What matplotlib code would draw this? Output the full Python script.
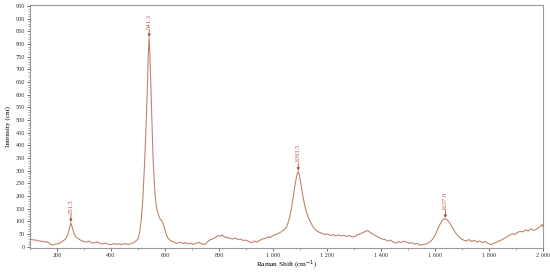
import numpy as np
import matplotlib.pyplot as plt
from matplotlib.ticker import FuncFormatter, MultipleLocator

# Raman spectrum
shift = [100, 110, 120, 135, 150, 165, 181, 195, 210, 222, 232, 240, 246, 251.5, 256, 262, 270, 280,
         290, 300, 310, 320, 330, 340, 350, 360, 370, 380, 390, 400, 410, 420, 430, 440, 450, 460,
         470, 480, 490, 500, 506, 512, 518, 524, 530, 535, 538, 541.3, 544, 548, 552, 556, 561,
         566, 571, 576, 581, 586, 591, 596, 601, 607, 613, 620, 628, 636, 645, 655, 665, 675, 685,
         695, 705, 715, 725, 735, 745, 752, 760, 770, 780, 790, 798, 805, 812, 820, 830, 840, 850,
         860, 870, 880, 890, 900, 910, 920, 930, 940, 950, 960, 970, 980, 990, 1000, 1010, 1020,
         1030, 1040, 1048, 1055, 1062, 1068, 1074, 1080, 1086, 1090, 1093.5, 1097, 1102, 1108,
         1114, 1120, 1127, 1135, 1143, 1152, 1162, 1172, 1182, 1192, 1202, 1212, 1222, 1232, 1242,
         1252, 1262, 1272, 1282, 1292, 1302, 1312, 1322, 1332, 1342, 1350, 1357, 1365, 1375, 1385,
         1395, 1405, 1415, 1425, 1435, 1445, 1455, 1465, 1475, 1485, 1495, 1505, 1515, 1525, 1535,
         1545, 1555, 1565, 1575, 1585, 1595, 1603, 1611, 1619, 1626, 1632, 1637.9, 1644, 1650,
         1657, 1664, 1671, 1679, 1687, 1695, 1705, 1715, 1725, 1735, 1745, 1755, 1765, 1775, 1785,
         1795, 1805, 1815, 1825, 1835, 1845, 1855, 1865, 1875, 1885, 1895, 1905, 1915, 1925, 1935,
         1945, 1955, 1965, 1975, 1983, 1990, 1996, 2000]
intensity = [31, 27, 26, 22, 20, 18, 6, 10, 13, 22, 30, 48, 72, 94, 78, 55, 38, 30,
             24, 20, 18, 22, 14, 16, 19, 12, 11, 14, 9, 8, 12, 9, 11, 8, 12, 9,
             10, 14, 20, 30, 55, 105, 190, 320, 480, 640, 760, 825, 760, 620, 470, 340, 240,
             175, 140, 125, 110, 105, 96, 80, 60, 42, 30, 24, 20, 16, 13, 18, 12, 16, 10,
             14, 9, 13, 17, 11, 8, 12, 22, 28, 32, 38, 44, 41, 46, 38, 36, 33, 30,
             34, 28, 30, 24, 26, 20, 15, 22, 18, 24, 30, 32, 38, 36, 44, 48, 52,
             58, 66, 74, 92, 118, 150, 190, 235, 272, 290, 297, 285, 255, 215,
             180, 150, 125, 105, 88, 72, 62, 56, 52, 48, 50, 44, 47, 43, 46,
             42, 45, 40, 44, 38, 40, 46, 50, 55, 60, 64, 58, 52, 46, 40,
             34, 30, 28, 22, 26, 18, 14, 20, 16, 22, 17, 13, 15, 10, 12,
             6, 8, 10, 14, 22, 35, 52, 72, 90, 102, 108, 110, 106, 100,
             88, 75, 62, 50, 40, 32, 26, 22, 28, 20, 25, 18, 22, 16, 20,
             14, 8, 12, 16, 22, 26, 32, 38, 45, 50, 48, 56, 60, 58, 66,
             62, 70, 64, 68, 75, 80, 88, 78]
peak_pos = [251.5, 541.3, 1093.5, 1637.9]
peak_val = [94, 825, 297, 110]
peak_txt = ['251.5', '541.3', '1093.5', '1637.9']

plt.rcParams['font.family'] = ['Liberation Serif', 'DejaVu Serif']

fig = plt.figure(figsize=(5.5, 2.73), dpi=100)
ax = fig.add_axes([0.0545, 0.092, 0.933, 0.89])

ax.plot(shift, intensity, color='#c0846a', lw=0.8)

for x, y, t in zip(peak_pos, peak_val, peak_txt):
    ax.annotate('', xy=(x, y + 3), xytext=(x, y + 32),
                arrowprops=dict(arrowstyle='-|>', color='#a85040', lw=0.6,
                                mutation_scale=4, shrinkA=0, shrinkB=0))
    ax.text(x, y + 36, t, rotation=90, ha='center', va='bottom',
            fontsize=4.8, color='#c0504d')

ax.set_xlim(100, 2000)
ax.set_ylim(-5, 955)
ax.xaxis.set_major_locator(MultipleLocator(200))
ax.xaxis.set_minor_locator(MultipleLocator(100))
ax.yaxis.set_major_locator(MultipleLocator(50))
ax.yaxis.set_minor_locator(MultipleLocator(10))
ax.xaxis.set_major_formatter(FuncFormatter(lambda v, p: f'{int(v):,}'.replace(',', ' ')))
ax.tick_params(labelsize=4.5, length=2.5, width=0.5, pad=1.2, colors='#333333')
ax.tick_params(which='minor', length=1.2, width=0.4, colors='#666666')
for s in ax.spines.values():
    s.set_color('#999999')
    s.set_linewidth(0.8)

ax.set_xlabel('Raman Shift (cm$^{-1}$)', fontsize=5.2, labelpad=0.5)
ax.set_ylabel('Intensity (cnt)', fontsize=5.2, labelpad=3)

fig.savefig('out.png', dpi=100)
